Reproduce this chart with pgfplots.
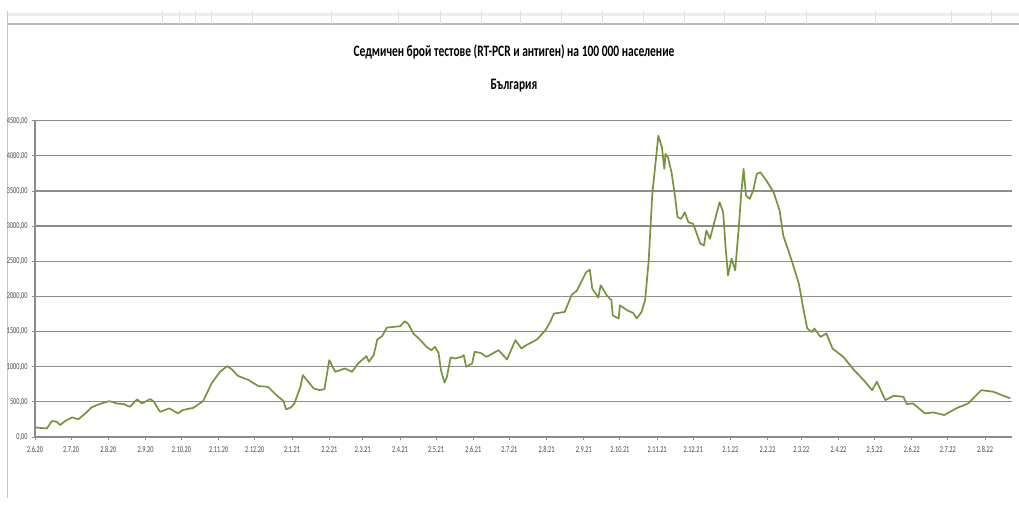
\documentclass[border=0pt]{standalone}
\usepackage{pgfplots}
\pgfplotsset{compat=1.18}
\usepackage{fontspec}
\setmainfont{Carlito}
\newfontfamily\condfont[FakeStretch=0.7]{Carlito}
\newfontfamily\titlefont[FakeStretch=0.72]{Carlito}
\definecolor{linegreen}{RGB}{119,147,60}
\definecolor{gridgray}{RGB}{140,140,140}
\definecolor{labgray}{RGB}{70,70,70}
\begin{document}
\begin{tikzpicture}[x=1bp,y=1bp]
\path[use as bounding box] (0,0) rectangle (1019,512);
% spreadsheet artifacts at the top
\draw[gray!15,line width=3bp] (6.5,497.5) -- (1019,497.5);
\draw[gray!55,line width=1.2bp] (6.5,488) -- (1019,488);
\foreach \xx in {162,179,195,211,252,331,398,440,481,520,561,602,643,684,724,765,806,875,951,991}
  \draw[gray!25,line width=0.7bp] (\xx,501) -- (\xx,488);
\draw[gray!45,line width=0.8bp] (7,501) -- (7,14);
\begin{axis}[
  at={(35bp,75bp)}, anchor=south west,
  scale only axis, width=977bp, height=316.3bp,
  xmin=0, xmax=813.5, ymin=0, ymax=4500,
  axis lines=left,
  axis line style={-, draw=gridgray, line width=1.2bp},
  ymajorgrids,
  grid style={draw=gridgray, line width=1.3bp},
  ytick={0,500,...,4500},
  xtick={0,30,61,92,122,153,183,214,245,273,304,334,365,395,426,457,487,518,548,579,610,638,669,699,730,760,791},
  xticklabels={2.6.20,2.7.20,2.8.20,2.9.20,2.10.20,2.11.20,2.12.20,2.1.21,2.2.21,2.3.21,2.4.21,2.5.21,2.6.21,2.7.21,2.8.21,2.9.21,2.10.21,2.11.21,2.12.21,2.1.22,2.2.22,2.3.22,2.4.22,2.5.22,2.6.22,2.7.22,2.8.22},
  tick align=outside,
  major tick length=3bp,
  tick style={draw=gridgray, line width=0.8bp},
  /pgf/number format/assume math mode=true,
  /pgf/number format/fixed, /pgf/number format/fixed zerofill, /pgf/number format/precision=2,
  /pgf/number format/use comma, /pgf/number format/1000 sep={},
  ticklabel style={font=\condfont\fontsize{9}{10}\selectfont, text=labgray},
  xticklabel style={yshift=-3bp},
  yticklabel style={xshift=-1bp},
  clip=false,
]
\addplot[color=linegreen, line width=1.7bp, line join=round] coordinates {
(0,138)(5,128)(10,123)(14,227)(18,217)(21,170)(25,227)(31,280)(36,251)(42,336)
(47,421)(53,464)(62,511)(68,478)(74,468)(79,430)(85,535)(89,478)(96,539)(99,501)
(104,359)(112,407)(119,336)(123,383)(132,416)(140,511)(147,762)(154,927)(160,1008)(164,961)
(169,870)(178,809)(186,724)(194,714)(201,596)(207,511)(209,393)(213,420)(216,478)(221,714)
(223,880)(232,691)(237,667)(241,680)(245,1093)(250,927)(258,975)(264,927)(269,1046)(276,1150)
(278,1069)(282,1164)(285,1387)(289,1434)(293,1557)(304,1576)(308,1647)(311,1604)(315,1472)(321,1377)
(326,1282)(330,1235)(333,1282)(336,1197)(338,951)(341,771)(343,856)(346,1131)(350,1117)(355,1140)
(357,1164)(359,998)(364,1046)(366,1211)(371,1197)(376,1140)(386,1235)(389,1178)(393,1103)(400,1377)
(405,1259)(409,1306)(418,1387)(425,1519)(429,1637)(432,1756)(441,1779)(447,2026)(451,2077)(459,2347)
(462,2380)(464,2111)(469,1983)(471,2158)(476,2016)(480,1945)(481,1732)(486,1685)(487,1874)(493,1803)
(498,1765)(501,1685)(505,1779)(508,1945)(511,2513)(514,3460)(516,3790)(519,4287)(522,4121)(524,3814)
(525,4027)(527,3979)(530,3766)(533,3411)(535,3127)(538,3104)(541,3198)(544,3056)(548,3033)(554,2750)
(557,2726)(559,2939)(562,2820)(566,3081)(570,3340)(573,3198)(575,2702)(577,2300)(580,2537)(583,2371)
(586,2986)(588,3460)(590,3814)(592,3435)(595,3388)(598,3506)(601,3743)(604,3766)(609,3648)(615,3482)
(620,3222)(623,2868)(630,2513)(636,2182)(640,1803)(643,1543)(647,1495)(649,1543)(654,1424)(659,1472)
(664,1259)(673,1140)(682,951)(690,809)(697,667)(701,785)(708,525)(715,586)(723,572)(726,468)
(731,478)(741,336)(748,350)(757,312)(767,407)(777,478)(788,667)(798,643)(812,549)
};
\end{axis}
\node[font=\titlefont\bfseries\fontsize{16}{18}\selectfont, anchor=center] at (514,460) {Седмичен брой тестове (RT-PCR и антиген) на 100 000 население};
\node[font=\titlefont\bfseries\fontsize{16}{18}\selectfont, anchor=center] at (514,426) {България};
\end{tikzpicture}
\end{document}
